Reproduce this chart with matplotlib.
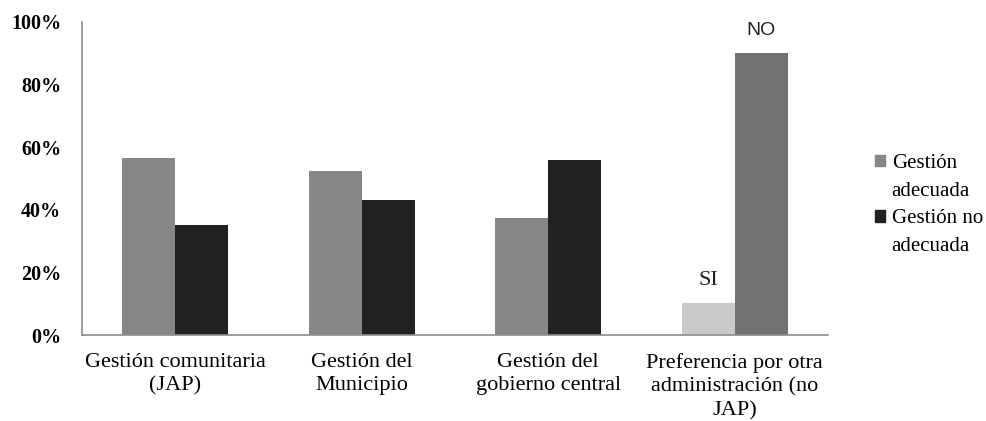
import numpy as np
import matplotlib.pyplot as plt
from matplotlib.patches import Patch
from matplotlib.ticker import FuncFormatter

categorias = ['Gestión comunitaria\n(JAP)', 'Gestión del\nMunicipio',
              'Gestión del\ngobierno central',
              'Preferencia por otra\nadministración (no\nJAP)']
adecuada = [56.5, 52.5, 37.5, 10.3]
no_adecuada = [35.0, 43.0, 56.0, 90.2]
etiquetas_pref = ['SI', 'NO']
series = [['Gestión', 'adecuada'], ['Gestión no', 'adecuada']]

plt.rcParams['font.family'] = ['Liberation Serif', 'DejaVu Serif']

fig = plt.figure(figsize=(9.87, 4.21), dpi=100)
ax = fig.add_axes([0.083, 0.204, 0.756, 0.744])

x = np.arange(len(categorias))
w = 0.285
col_ad = ['#878787', '#878787', '#878787', '#c9c9c9']
col_no = ['#222222', '#222222', '#222222', '#727272']
ax.bar(x - w / 2, adecuada, w, color=col_ad)
ax.bar(x + w / 2, no_adecuada, w, color=col_no)

# etiquetas SI / NO sobre la ultima categoria
ax.text(x[3] - w / 2, adecuada[3] + 7, etiquetas_pref[0], ha='center',
        va='center', fontsize=16, color='#222222')
ax.text(x[3] + w / 2, no_adecuada[3] + 7, etiquetas_pref[1], ha='center',
        va='center', fontsize=14, color='#222222', family='Liberation Sans')

ax.set_xlim(-0.5, 3.5)
ax.set_ylim(0, 100)
ax.set_yticks(range(0, 101, 20))
ax.yaxis.set_major_formatter(FuncFormatter(lambda v, p: f'{v:.0f}%'))
ax.set_xticks(x)
ax.set_xticklabels(categorias, fontsize=16, linespacing=1.3)
ax.tick_params(axis='y', labelsize=14.5, length=0, pad=15)
ax.tick_params(axis='x', length=0, pad=13)
for lab in ax.get_yticklabels():
    lab.set_fontweight('bold')
for s in ['top', 'right']:
    ax.spines[s].set_visible(False)
for s in ['left', 'bottom']:
    ax.spines[s].set_color('#8c8c8c')
    ax.spines[s].set_linewidth(1.2)

# leyenda: cuadro alineado con la primera linea de cada entrada
vacio = Patch(color='none')
handles = [Patch(color='#878787'), vacio, Patch(color='#222222'), vacio]
labels = series[0] + series[1]
leg = fig.legend(handles, labels, loc='center left',
                 bbox_to_anchor=(0.876, 0.513), frameon=False,
                 handlelength=0.5, handleheight=0.5, handletextpad=0.3,
                 labelspacing=0.42, borderpad=0, prop={'size': 15})

fig.savefig('out.png', dpi=100)
